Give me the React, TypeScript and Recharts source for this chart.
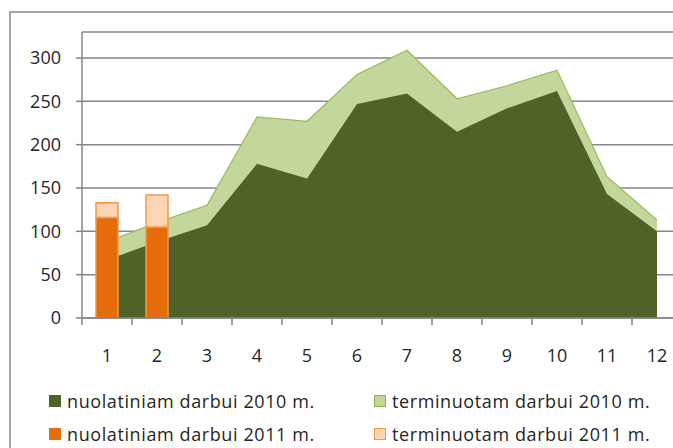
import React from 'react';
import { ComposedChart, Area, Bar, XAxis, YAxis, CartesianGrid } from 'recharts';

const months = ['1', '2', '3', '4', '5', '6', '7', '8', '9', '10', '11', '12'];
const ongoing2010 = [67, 88, 107, 178, 161, 247, 259, 215, 242, 262, 143, 100];
const fixedTerm2010 = [21, 22, 23, 54, 66, 34, 50, 38, 26, 24, 20, 13];
const ongoing2011 = [116, 105, null, null, null, null, null, null, null, null, null, null];
const fixedTerm2011 = [17, 37, null, null, null, null, null, null, null, null, null, null];
const yTicks = [0, 50, 100, 150, 200, 250, 300];

const seriesNames = [
  'nuolatiniam darbui 2010 m.',
  'terminuotam darbui 2010 m.',
  'nuolatiniam darbui 2011 m.',
  'terminuotam darbui 2011 m.',
];

const data = months.map((m, i) => ({
  month: m,
  o10: ongoing2010[i],
  t10: fixedTerm2010[i],
  o11: ongoing2011[i],
  t11: fixedTerm2011[i],
}));

const FONT = '"Open Sans", "Liberation Sans", sans-serif';
const TEXT = '#262626';
const AXIS = '#868686';

const XTick = (props: any) => {
  const { x, y, payload } = props;
  const off = payload && typeof payload.offset === 'number' ? payload.offset : 25;
  const axisY = y - 31;
  return (
    <g>
      <line x1={x - off} x2={x - off} y1={axisY} y2={axisY + 7} stroke={AXIS} strokeWidth={1.5} />
      <text x={x} y={y} dy="0.71em" textAnchor="middle" fill={TEXT} fontSize={18} fontFamily={FONT}>
        {payload.value}
      </text>
    </g>
  );
};

const legendItems = [
  { name: seriesNames[0], fill: '#4F6228', stroke: '#4F6228', left: 49, top: 394 },
  { name: seriesNames[1], fill: '#C3D69B', stroke: '#8EB04E', left: 374, top: 394 },
  { name: seriesNames[2], fill: '#E46C0A', stroke: '#E46C0A', left: 49, top: 427 },
  { name: seriesNames[3], fill: '#FCD5B5', stroke: '#F79646', left: 374, top: 427 },
];

export default function App() {
  return (
    <div
      style={{
        position: 'fixed',
        left: 0,
        top: 0,
        width: 673,
        height: 448,
        overflow: 'hidden',
        background: '#fff',
      }}
    >
      <div
        style={{
          position: 'absolute',
          left: 9,
          top: 11,
          width: 800,
          height: 500,
          border: '2px solid #A6A6A6',
          boxSizing: 'border-box',
        }}
      />
      <div style={{ position: 'absolute', left: 0, top: 0 }}>
        <ComposedChart
          width={720}
          height={448}
          data={data}
          margin={{ top: 32, right: 38, left: 0, bottom: 90 }}
          barSize={22}
        >
          <CartesianGrid horizontal vertical={false} stroke={AXIS} strokeWidth={1.5} />
          <XAxis
            dataKey="month"
            height={40}
            tickSize={6}
            tickMargin={25}
            tickLine={false}
            axisLine={{ stroke: AXIS, strokeWidth: 1.5 }}
            tick={<XTick />}
            interval={0}
          />
          <YAxis
            width={82}
            domain={[0, 330]}
            ticks={yTicks}
            tickSize={6}
            tickMargin={15}
            axisLine={{ stroke: AXIS, strokeWidth: 1.5 }}
            tickLine={{ stroke: AXIS, strokeWidth: 1.5 }}
            tick={{ fill: TEXT, fontSize: 18, fontFamily: FONT }}
            allowDataOverflow
          />
          <Area
            type="linear"
            dataKey="o10"
            stackId="a"
            fill="#4F6228"
            fillOpacity={1}
            stroke="#4F6228"
            strokeWidth={1}
            isAnimationActive={false}
            name={seriesNames[0]}
          />
          <Area
            type="linear"
            dataKey="t10"
            stackId="a"
            fill="#C3D69B"
            fillOpacity={1}
            stroke="#9BBB59"
            strokeWidth={1.2}
            isAnimationActive={false}
            name={seriesNames[1]}
          />
          <Bar
            dataKey="o11"
            stackId="b"
            fill="#E46C0A"
            stroke="#F79646"
            strokeWidth={1.5}
            isAnimationActive={false}
            name={seriesNames[2]}
          />
          <Bar
            dataKey="t11"
            stackId="b"
            fill="#FCD5B5"
            stroke="#F79646"
            strokeWidth={1.5}
            isAnimationActive={false}
            name={seriesNames[3]}
          />
        </ComposedChart>
      </div>
      {legendItems.map((it) => (
        <div
          key={it.name}
          style={{
            position: 'absolute',
            left: it.left,
            top: it.top,
            display: 'flex',
            alignItems: 'center',
            height: 14,
            fontFamily: FONT,
            fontSize: 18,
            letterSpacing: 0.6,
            color: TEXT,
            whiteSpace: 'nowrap',
          }}
        >
          <span
            style={{
              display: 'inline-block',
              width: 12,
              height: 12,
              background: it.fill,
              border: `1.5px solid ${it.stroke}`,
              boxSizing: 'border-box',
              marginRight: 6,
            }}
          />
          <span style={{ lineHeight: '14px' }}>{it.name}</span>
        </div>
      ))}
    </div>
  );
}
